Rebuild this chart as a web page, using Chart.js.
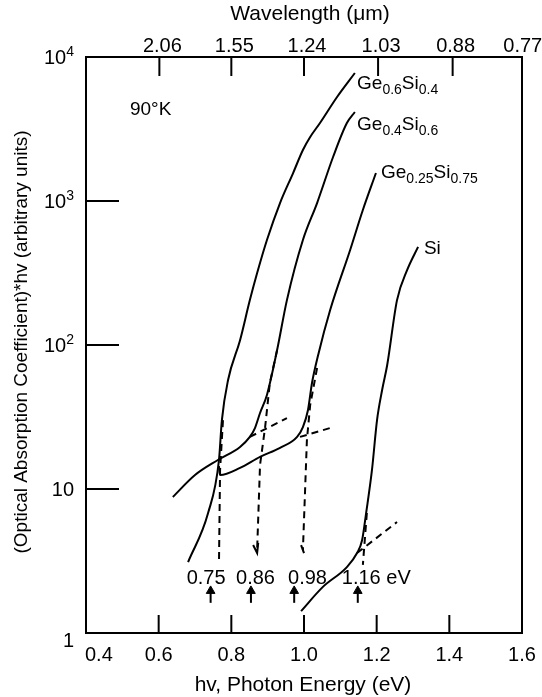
<!DOCTYPE html>
<html lang="en">
<head>
  <meta charset="UTF-8" />
  <title>Absorption edge of GeSi alloys</title>
  <script src="https://cdn.jsdelivr.net/npm/chart.js"></script>
  <style>
    html, body { margin: 0; padding: 0; background: #fff; }
    canvas { display: block; }
  </style>
</head>
<body>
  <canvas id="absChart" width="542" height="697"></canvas>

<script>
// photon energy (eV) / absorption (arb. units)
const ge60X = [0.681, 0.736, 0.766, 0.774, 0.791, 0.824, 0.851, 0.871, 0.898, 0.934, 0.970, 0.997, 1.017, 1.044, 1.091, 1.140];
const ge60Y = [3.11, 6.81, 15.9, 30.1, 57.1, 108, 205, 316, 536, 968, 1564, 2260, 2782, 3481, 5275, 7743];

const ge40X = [0.639, 0.700, 0.763, 0.824, 0.851, 0.865, 0.879, 0.898, 0.926, 0.953, 0.997, 1.036, 1.080, 1.118, 1.140];
const ge40Y = [8.8, 12.5, 15.9, 19.6, 23.0, 26.5, 33.7, 45.0, 92.3, 205, 536, 968, 2021, 3481, 4150];

const ge25X = [0.766, 0.769, 0.824, 0.879, 0.934, 0.981, 0.997, 1.011, 1.022, 1.039, 1.072, 1.127, 1.162, 1.198];
const ge25Y = [14.4, 12.5, 14.0, 16.7, 19.3, 23.0, 26.9, 35.4, 54.5, 85.3, 175, 457, 866, 1564];

const siX = [0.992, 1.052, 1.118, 1.146, 1.160, 1.171, 1.187, 1.201, 1.215, 1.229, 1.256, 1.284, 1.314];
const siY = [1.42, 2.09, 2.87, 3.59, 4.42, 6.81, 13.5, 30.1, 48.7, 72.6, 205, 332, 480];

// dashed construction lines
const drop1X = [0.777, 0.769, 0.766];
const drop1Y = [30.1, 13.5, 3.06];
const drop2X = [0.926, 0.906, 0.893, 0.879, 0.871];
const drop2Y = [92.3, 54.5, 26.9, 14.7, 3.77];
const drop3X = [1.036, 1.017, 1.008, 1.003, 0.997];
const drop3Y = [69.2, 38.3, 21.9, 9.84, 3.77];
const drop4X = [1.173, 1.162];
const drop4Y = [6.81, 2.97];
const tail40X = [0.851, 0.953];
const tail40Y = [23.0, 31.1];
const tail25X = [0.989, 1.080];
const tail25Y = [23.0, 26.9];
const tailSiX = [1.146, 1.256];
const tailSiY = [3.59, 5.90];

// little hooks at the ends of two dashed lines
const hook2X = [0.860, 0.871, 0.874];
const hook2Y = [4.08, 3.59, 4.22];
const hook3X = [0.992, 1.000];
const hook3Y = [4.08, 3.59];

// band gap arrows
const gapArrowX = [0.743, 0.854, 0.973, 1.148];
const arrowTail = 1.62;
const arrowHead = 1.96;
const gapLabels = ['0.75', '0.86', '0.98', '1.16 eV'];
const gapLabelX = [0.677, 0.813, 0.956, 1.104];
const gapLabelY = 2.19;

// axes
const energyTicks = [0.4, 0.6, 0.8, 1.0, 1.2, 1.4, 1.6];
const energyLabels = ['0.4', '0.6', '0.8', '1.0', '1.2', '1.4', '1.6'];
const wavelengthTicks = [2.06, 1.55, 1.24, 1.03, 0.88, 0.77];
const wavelengthLabels = ['2.06', '1.55', '1.24', '1.03', '0.88', '0.77'];
const absTicks = [1, 10, 100, 1000, 10000];
const absBase = ['1', '10', '10', '10', '10'];
const absExp = ['', '', '2', '3', '4'];

// curve names
const curveNames = [
  [['Ge', 0], ['0.6', 1], ['Si', 0], ['0.4', 1]],
  [['Ge', 0], ['0.4', 1], ['Si', 0], ['0.6', 1]],
  [['Ge', 0], ['0.25', 1], ['Si', 0], ['0.75', 1]],
  [['Si', 0]]
];
const curveNameX = [1.146, 1.146, 1.212, 1.330];
const curveNameY = [5995, 3111, 1445, 428];

const FONT = '"Liberation Sans", Arial, sans-serif';

function pts(xs, ys) {
  return xs.map((x, i) => ({x: x, y: ys[i]}));
}

function curve(xs, ys) {
  return {data: pts(xs, ys), showLine: true, borderColor: '#000', borderWidth: 2,
          pointRadius: 0, cubicInterpolationMode: 'monotone', fill: false};
}

function solid(xs, ys) {
  return {data: pts(xs, ys), showLine: true, borderColor: '#000', borderWidth: 2,
          pointRadius: 0, tension: 0, fill: false};
}

function dashed(xs, ys) {
  const d = solid(xs, ys);
  d.borderDash = [7, 5];
  return d;
}

const datasets = [
  curve(ge60X, ge60Y),
  curve(ge40X, ge40Y),
  curve(ge25X, ge25Y),
  curve(siX, siY),
  dashed(drop1X, drop1Y),
  dashed(drop2X, drop2Y),
  dashed(drop3X, drop3Y),
  dashed(drop4X, drop4Y),
  dashed(tail40X, tail40Y),
  dashed(tail25X, tail25Y),
  dashed(tailSiX, tailSiY),
  solid(hook2X, hook2Y),
  solid(hook3X, hook3Y)
];

gapArrowX.forEach(x => {
  datasets.push({
    data: [{x: x, y: arrowTail}, {x: x, y: arrowHead}],
    showLine: true, borderColor: '#000', borderWidth: 2,
    pointStyle: 'triangle', pointRadius: [0, 5], pointBackgroundColor: '#000',
    pointBorderColor: '#000', pointBorderWidth: 1
  });
});

function drawRich(ctx, parts, x, y, big, small) {
  let cx = x;
  parts.forEach(p => {
    ctx.font = (p[1] ? small : big) + 'px ' + FONT;
    ctx.fillText(p[0], cx, y + (p[1] ? 5 : 0));
    cx += ctx.measureText(p[0]).width;
  });
}

const framePlugin = {
  id: 'framePlugin',
  afterDatasetsDraw(chart) {
    const {ctx, chartArea: a, scales: {x, y}} = chart;
    ctx.save();
    ctx.strokeStyle = '#000';
    ctx.fillStyle = '#000';
    ctx.lineWidth = 2;
    ctx.strokeRect(a.left, a.top, a.right - a.left, a.bottom - a.top);

    // bottom energy ticks + labels
    ctx.font = '20px ' + FONT;
    ctx.textBaseline = 'alphabetic';
    energyTicks.forEach((v, i) => {
      const px = x.getPixelForValue(v);
      if (i > 0 && i < energyTicks.length - 1) {
        ctx.beginPath();
        ctx.moveTo(px, a.bottom);
        ctx.lineTo(px, a.bottom - 18);
        ctx.stroke();
      }
      ctx.textAlign = i === 0 ? 'left' : 'center';
      ctx.fillText(energyLabels[i], i === 0 ? px - 1 : px, a.bottom + 28);
    });

    // top wavelength ticks + labels
    wavelengthTicks.forEach((w, i) => {
      const px = x.getPixelForValue(1.24 / w);
      const last = i === wavelengthTicks.length - 1;
      if (!last) {
        ctx.beginPath();
        ctx.moveTo(px, a.top);
        ctx.lineTo(px, a.top + 19);
        ctx.stroke();
      }
      ctx.textAlign = 'center';
      ctx.fillText(wavelengthLabels[i], last ? px - 3 : px + 3, a.top - 5);
    });

    // left log ticks + labels
    absTicks.forEach((v, i) => {
      const py = y.getPixelForValue(v);
      if (i > 0 && i < absTicks.length - 1) {
        ctx.beginPath();
        ctx.moveTo(a.left, py);
        ctx.lineTo(a.left + 33, py);
        ctx.stroke();
      }
      ctx.textAlign = 'left';
      ctx.font = '20px ' + FONT;
      const wBase = ctx.measureText(absBase[i]).width;
      ctx.font = '14px ' + FONT;
      const wExp = absExp[i] ? ctx.measureText(absExp[i]).width : 0;
      const left = a.left - 12 - wBase - wExp;
      const base = i === 0 ? py + 14 : py + 7;
      ctx.font = '20px ' + FONT;
      ctx.fillText(absBase[i], left, base);
      if (absExp[i]) {
        ctx.font = '14px ' + FONT;
        ctx.fillText(absExp[i], left + wBase, base - 8);
      }
    });

    // axis titles
    ctx.textAlign = 'center';
    ctx.font = '21px ' + FONT;
    ctx.fillText('Wavelength (\u03bcm)', 310, 20);
    ctx.fillText('hv, Photon Energy (eV)', 303, 691);
    ctx.save();
    ctx.translate(27, 342);
    ctx.rotate(-Math.PI / 2);
    ctx.font = '19px ' + FONT;
    ctx.fillText('(Optical Absorption Coefficient)*hv (arbitrary units)', 0, 0);
    ctx.restore();

    // annotations
    ctx.textAlign = 'left';
    ctx.font = '19px ' + FONT;
    ctx.fillText('90\u00b0K', x.getPixelForValue(0.521), y.getPixelForValue(3955));

    ctx.font = '20px ' + FONT;
    gapLabels.forEach((t, i) => {
      ctx.fillText(t, x.getPixelForValue(gapLabelX[i]), y.getPixelForValue(gapLabelY));
    });

    curveNames.forEach((parts, i) => {
      drawRich(ctx, parts, x.getPixelForValue(curveNameX[i]), y.getPixelForValue(curveNameY[i]), 19, 14);
    });

    ctx.restore();
  }
};

const chart = new Chart(document.getElementById('absChart').getContext('2d'), {
  type: 'scatter',
  data: {datasets: datasets},
  options: {
    responsive: false,
    animation: false,
    devicePixelRatio: 1,
    layout: {padding: {left: 86, right: 20, top: 57, bottom: 64}},
    scales: {
      x: {type: 'linear', min: 0.4, max: 1.6, display: false},
      y: {type: 'logarithmic', min: 1, max: 10000, display: false}
    },
    plugins: {
      legend: {display: false},
      tooltip: {enabled: false}
    }
  },
  plugins: [framePlugin]
});
</script>
</body>
</html>
